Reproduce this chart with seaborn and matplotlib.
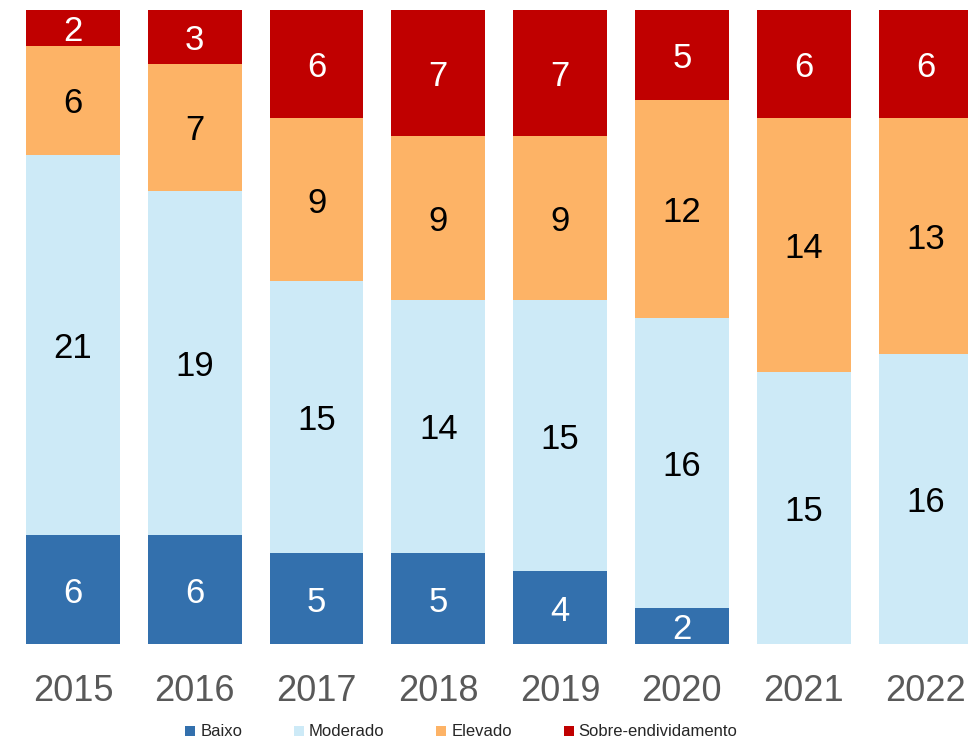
import matplotlib
matplotlib.use("Agg")
import matplotlib.pyplot as plt
from matplotlib.lines import Line2D
import seaborn as sns
import pandas as pd
import numpy as np

years = ["2015", "2016", "2017", "2018", "2019", "2020", "2021", "2022"]
baixo = [6, 6, 5, 5, 4, 2, 0, 0]
moderado = [21, 19, 15, 14, 15, 16, 15, 16]
elevado = [6, 7, 9, 9, 9, 12, 14, 13]
sobre = [2, 3, 6, 7, 7, 5, 6, 6]

series_names = ["Baixo", "Moderado", "Elevado", "Sobre-endividamento"]
series_vals = [baixo, moderado, elevado, sobre]
colors = ["#3370AD", "#CDEAF7", "#FDB366", "#C00000"]
text_colors = ["white", "black", "black", "white"]

sns.set_theme(style="white")
plt.rcParams['font.family'] = ['Liberation Sans Narrow', 'Liberation Sans', 'DejaVu Sans']

df = pd.DataFrame({"ano": years})

fig = plt.figure(figsize=(9.68, 7.41), dpi=100)
ax = fig.add_axes([0, 0.131, 1, 0.856])

bottom = np.zeros(len(years))
for name, vals, col, tcol in zip(series_names, series_vals, colors, text_colors):
    vals = np.array(vals, dtype=float)
    df[name] = vals
    sns.barplot(data=df, x="ano", y=name, color=col, width=0.77,
                bottom=bottom, ax=ax, saturation=1, linewidth=0)
    for i, v in enumerate(vals):
        if v > 0:
            ax.text(i, bottom[i] + v / 2, f"{int(v)}", ha="center",
                    va="center_baseline", fontsize=25, color=tcol)
    bottom = bottom + vals

ax.set_xlim(-0.6, 7.35)
ax.set_ylim(0, 35)
ax.set_xlabel("")
ax.set_ylabel("")
ax.set_yticks([])
ax.tick_params(axis="x", length=0, pad=22, labelsize=26, labelcolor="#595959")
for s in ax.spines.values():
    s.set_visible(False)

handles = [Line2D([0], [0], marker="s", linestyle="", markersize=7,
                  markerfacecolor=c, markeredgewidth=0) for c in colors]
fig.legend(handles, series_names, loc="lower center", ncol=4, frameon=False,
           fontsize=12, bbox_to_anchor=(0.475, -0.018), handletextpad=0.1,
           columnspacing=2.9, handlelength=1.0)

fig.savefig("out.png", dpi=100)
